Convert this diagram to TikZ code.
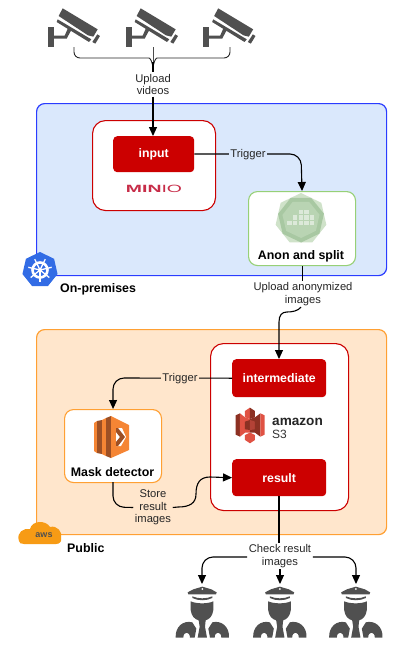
\documentclass[tikz,border=0pt]{standalone}
\usepackage{fontspec}
\setmainfont{Liberation Sans}
\usetikzlibrary{arrows.meta,shapes.geometric}
\definecolor{bluefill}{HTML}{DAE8FC}
\definecolor{blueline}{HTML}{2A3CFF}
\definecolor{orangefill}{HTML}{FFE6CC}
\definecolor{orangeline}{HTML}{FFA033}
\definecolor{redbox}{HTML}{CC0000}
\definecolor{greenline}{HTML}{97D077}
\definecolor{icongray}{HTML}{505050}
\definecolor{minio}{HTML}{C72C48}
\definecolor{sthreelight}{HTML}{E05243}
\definecolor{sthreedark}{HTML}{8C3123}
\definecolor{lambdalight}{HTML}{F58534}
\definecolor{lambdadark}{HTML}{9D5025}
\definecolor{anonouter}{HTML}{CFE2C9}
\definecolor{anonring}{HTML}{A8C8A2}
\definecolor{anoninner}{HTML}{B9D4B3}
\definecolor{k8sblue}{HTML}{326CE5}
\definecolor{awsorange}{HTML}{F79B15}
\tikzset{
  x=1pt,y=-1pt,
  zonebox/.style={draw,line width=1.2pt,rounded corners=8pt,anchor=north west,inner sep=0},
  holder/.style={draw=redbox,fill=white,line width=1.1pt,rounded corners=13pt,anchor=north west,inner sep=0},
  redcell/.style={fill=redbox,rounded corners=4pt,anchor=north west,inner sep=0,text=white,font=\fontsize{12.3}{14}\selectfont\bfseries},
  iconcard/.style={fill=white,line width=1.1pt,rounded corners=9pt,anchor=north west,inner sep=0},
  boldlabel/.style={font=\fontsize{12.4}{14}\selectfont\bfseries,inner sep=0},
  flowlabel/.style={font=\fontsize{11.2}{12.4}\selectfont,align=center,inner sep=1.5pt,text=black!85},
  link/.style={draw=black,line width=1.1pt,rounded corners=11pt},
  arrowlink/.style={link,-{Triangle[length=9pt,width=8pt]}},
}
\newcommand{\camicon}[1]{%
\begin{scope}[shift={(#1,0)},x=.3333pt,y=-.3333pt]
  \fill[icongray] (128,25)--(233,88)--(220,110)--(204,106)--(116,48)--cycle;
  \fill[icongray] (113,58)--(214,118)--(207,126)--(110,66)--cycle;
  \fill[icongray] (232,103)--(240,108)--(226,131)--(217,126)--cycle;
  \fill[icongray] (145,82)--(155,88)--(140,116)--(100,116)--(100,107)--(134,107)--cycle;
  \fill[icongray] (83,82) rectangle (101,140);
\end{scope}}
\newcommand{\copicon}[1]{%
\begin{scope}[shift={(#1,530)},x=.3333pt,y=-.3333pt]
  \fill[icongray] (83,187)--(100,178)--(127,170)--(154,178)--(170,187)--(168,193)--(85,193)--cycle;
  \fill[white] (127,177) circle[radius=3];
  \fill[icongray] (97,199) .. controls (115,207) and (139,207) .. (157,199) -- (157,204) .. controls (139,213) and (115,213) .. (97,204) --cycle;
  \fill[icongray] (92,214) .. controls (110,222) and (143,222) .. (160,214) -- (160,240) .. controls (158,258) and (148,268) .. (137,271) -- (135,290) -- (141,323) -- (113,323) -- (119,290) -- (116,271) .. controls (104,268) and (94,258) .. (92,240) -- cycle;
  \fill[icongray] (47,323) .. controls (45,290) and (70,270) .. (97,277) -- (109,296) -- (104,323) -- (90,323) .. controls (90,303) and (70,303) .. (70,323) -- cycle;
  \fill[icongray] (207,323) .. controls (209,290) and (184,270) .. (157,277) -- (145,296) -- (150,323) -- (164,323) .. controls (164,303) and (184,303) .. (184,323) -- cycle;
\end{scope}}
\begin{document}
\begin{tikzpicture}
\useasboundingbox (0,0) rectangle (409,648);
% zones
\node[zonebox,draw=blueline,fill=bluefill,minimum width=350pt,minimum height=172pt] (onprem) at (36,103) {};
\node[zonebox,draw=orangeline,fill=orangefill,minimum width=350pt,minimum height=205pt] (public) at (36,329) {};
% holders
\node[holder,minimum width=123pt,minimum height=90pt] (minioholder) at (92,120) {};
\node[holder,minimum width=138pt,minimum height=167pt] (s3holder) at (210,343) {};
% cells
\node[redcell,minimum width=81pt,minimum height=36pt] (input) at (113,136) {\raisebox{-1.5pt}{input}};
\node[redcell,minimum width=94pt,minimum height=38pt] (intermediate) at (232,359) {\raisebox{-1.5pt}{intermediate}};
\node[redcell,minimum width=94pt,minimum height=37pt] (result) at (232,459) {\raisebox{-1.5pt}{result}};
\node[iconcard,draw=greenline,minimum width=107pt,minimum height=74pt] (anon) at (248,191) {};
\node[iconcard,draw=orangeline,minimum width=97pt,minimum height=73pt] (mask) at (64,409) {};
\node[boldlabel,anchor=base] (anonlabel) at (301,259) {Anon and split};
\node[boldlabel,anchor=base] (masklabel) at (112.5,476) {Mask detector};
\node[boldlabel,anchor=base west] (onpremlabel) at (60,292) {On-premises};
\node[boldlabel,anchor=base west] (publiclabel) at (67,552) {Public};
% minio wordmark
\node[inner sep=0,text=minio,xscale=1.85,font=\fontsize{10.5}{12}\selectfont] (miniologo) at (154,189) {\textbf{MIN}IO};
% s3 wordmark
\node[inner sep=0,anchor=base west,text=black!85,font=\fontsize{13.6}{16}\selectfont\bfseries] (amazonword) at (272,425) {amazon};
\node[inner sep=0,anchor=base west,text=black!80,font=\fontsize{12}{13}\selectfont] (sthree) at (272,438) {S3};
% anon icon
\node[regular polygon,regular polygon sides=7,fill=anonouter,minimum size=52pt,inner sep=0] (anonicon) at (301,219) {};
\node[regular polygon,regular polygon sides=7,fill=anonring,minimum size=47pt,inner sep=0,rotate=26] (anonicon2) at (301,219) {};
\node[regular polygon,regular polygon sides=7,fill=anoninner,minimum size=38pt,inner sep=0,rotate=26] (anonicon3) at (301,219) {};
\foreach \px/\py in {289.5/223,295/223,301/223,306.5/223,312/223,295/217.5,301/217.5,306.5/217.5,312/217.5,301/212,306.5/212}{
  \fill[white,opacity=.5] (\px-2.2,\py-2.2) rectangle (\px+2.2,\py+2.2);
}
% kubernetes icon
\node[regular polygon,regular polygon sides=7,fill=k8sblue,minimum size=36pt,inner sep=0] (k8s) at (40,270) {};
\draw[white,line width=2.6pt] (40,270) circle[radius=7.5];
\fill[white] (40,270) circle[radius=2];
\foreach \a in {90,141,193,244,296,347,39}{
  \draw[white,line width=1.3pt] (40,270) -- ++(\a:12);
}
% lambda icon
\fill[lambdalight] (94,423)--(97,421)--(97,453)--(94,451)--cycle;
\fill[lambdadark] (97,421)--(102,420)--(102,454)--(97,453)--cycle;
\fill[lambdalight] (102,420)--(106,418)--(106,456)--(102,454)--cycle;
\fill[lambdadark] (106,418)--(111,416)--(111,458)--(106,456)--cycle;
\fill[lambdalight] (111,416)--(129,425)--(129,450)--(111,458)--cycle;
\fill[white] (116,428)--(122,428)--(126,437)--(121,446)--(116,446)--cycle;
\fill[lambdadark] (116,428)--(118,428)--(125,437)--(118,446)--(116,446)--(116,442)--(120,437)--(116,432)--cycle;
% s3 icon
\begin{scope}[shift={(200,340)},x=.3333pt,y=-.3333pt]
  \fill[sthreedark] (107,226)--(120,220)--(120,290)--(107,284)--cycle;
  \fill[sthreelight] (120,220)--(135,232)--(135,278)--(120,290)--cycle;
  \fill[sthreelight] (135,232)--(150,237)--(150,278)--(135,278)--cycle;
  \fill[sthreedark] (150,237)--(165,232)--(165,278)--(150,278)--cycle;
  \fill[sthreelight] (135,213)--(150,203)--(150,237)--(135,232)--cycle;
  \fill[sthreedark] (150,203)--(165,213)--(165,232)--(150,237)--cycle;
  \fill[sthreedark] (135,245)--(150,240)--(150,270)--(135,268)--cycle;
  \fill[sthreelight!80!black] (150,240)--(165,245)--(165,268)--(150,270)--cycle;
  \fill[sthreedark] (165,232)--(181,220)--(181,290)--(165,278)--cycle;
  \fill[sthreelight] (181,220)--(194,226)--(194,284)--(181,290)--cycle;
  \fill[sthreelight] (135,285)--(150,278)--(165,285)--(165,300)--(150,310)--(135,300)--cycle;
\end{scope}
% aws cloud
\fill[awsorange] (19,541) .. controls (16,532) and (24,528) .. (30,529) .. controls (32,520) and (46,520) .. (50,527) .. controls (57,525) and (63,532) .. (61,538) .. controls (62,541) and (60,544) .. (56,544) -- (24,544) .. controls (21,544) and (19,543) .. (19,541) -- cycle;
\node[inner sep=0,font=\fontsize{9}{9}\selectfont\bfseries,text=icongray] (awsword) at (44,535) {aws};
% cameras and people
\camicon{20}\camicon{98}\camicon{175.5}
\copicon{160}\copicon{237.5}\copicon{313.5}
% connector coordinates
\coordinate (cam1) at (74,47);\coordinate (cam2) at (153,47);\coordinate (cam3) at (230,47);
\node[flowlabel,fill=white] (uploadvideos) at (153,84.5) {Upload\\videos};
\draw[line width=.9pt,draw=black!85,rounded corners=6pt] (cam1) -- (74,58) -- (143,58) .. controls (150,58) and (153,62) .. (153,70);
\draw[line width=.9pt,draw=black!85,rounded corners=6pt] (cam3) -- (230,58) -- (163,58) .. controls (156,58) and (153,62) .. (153,70);
\draw[line width=.9pt,draw=black!70] (cam2) -- (153,72);
\draw[line width=1.1pt] (153,62) -- (uploadvideos.north);
\draw[arrowlink] (uploadvideos.south) -- (input.north -| uploadvideos.south);
% trigger 1
\coordinate (trigcorner) at (301,154);
\draw[arrowlink] (input.east |- trigcorner) -- (trigcorner) -- (anon.north);
\node[flowlabel,fill=bluefill] (trigger1) at (248,155) {Trigger};
% upload anonymized
\node[flowlabel,fill=white] (uploadanon) at (303,294) {Upload anonymized\\images};
\draw[link] (anon.south) -- (uploadanon.north -| anon.south);
\coordinate (bend1) at (279,312);
\draw[line width=1.1pt,-{Triangle[length=9pt,width=8pt]}] (uploadanon.south -| 301,0) .. controls (298,311) and (292,312) .. (287,312) .. controls (282,312) and (279,315) .. (279,322) -- (intermediate.north -| bend1);
% trigger 2
\coordinate (trig2corner) at (113,378);
\draw[arrowlink] (intermediate.west) -- (trig2corner) -- (mask.north);
\node[flowlabel,fill=orangefill] (trigger2) at (180,379) {Trigger};
% store
\node[flowlabel,fill=orangefill] (store) at (153,507.5) {Store\\result\\images};
\draw[link] (113,482) -- (113,507) -- (store.west);
\draw[-{Triangle[length=9pt,width=8pt]},line width=1.1pt] (store.east) -- (178,507) .. controls (190,507) and (196,503) .. (196,494) .. controls (196,483) and (200,477) .. (210,477) -- (result.west);
% check
\node[flowlabel,fill=white] (check) at (280,556) {Check result\\images};
\draw[link] (result.south -| 279,0) -- (check.north -| 279,0);
\coordinate (copa) at (202,584);\coordinate (copb) at (280,584);\coordinate (copc) at (356,584);
\draw[arrowlink] (check.west |- 0,557) -- (202,557) -- (copa);
\draw[arrowlink] (check.south -| copb) -- (copb);
\draw[arrowlink] (check.east |- 0,557) -- (356,557) -- (copc);
\end{tikzpicture}
\end{document}
